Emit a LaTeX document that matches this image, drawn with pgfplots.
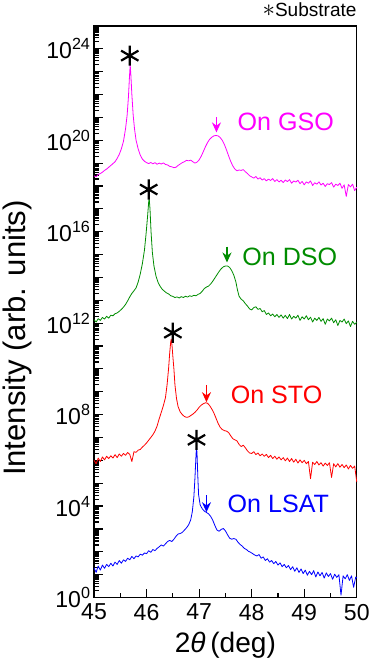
\documentclass[border={0pt 0pt 0pt 3pt}]{standalone}
\usepackage{fontspec}
\setmainfont{Liberation Sans}
\usepackage{pgfplots}
\usepackage{pgfplotstable}
\pgfplotsset{compat=1.18}
\usetikzlibrary{arrows.meta}

\definecolor{cgso}{RGB}{255,0,255}
\definecolor{cdso}{RGB}{0,140,0}
\definecolor{csto}{RGB}{255,0,0}
\definecolor{clsat}{RGB}{0,0,255}

% 2theta-omega scans of the films on the four substrates
\pgfplotstableread{
x y
45.00 2.75e18
45.04 2.5e18
45.08 3.2e18
45.12 3.5e18
45.16 4.0e18
45.20 4.8e18
45.24 5.5e18
45.28 6.6e18
45.32 7.9e18
45.36 9.5e18
45.40 1.15e19
45.44 1.6e19
45.48 2.4e19
45.52 4.2e19
45.56 8.9e19
45.60 3.2e20
45.63 1.26e21
45.655 7.9e21
45.675 6.3e22
45.688 2.0e23
45.70 7.9e22
45.72 1.0e22
45.745 1.26e21
45.77 3.2e20
45.80 1.0e20
45.84 4.2e19
45.88 2.24e19
45.92 1.5e19
45.96 1.2e19
46.00 1.05e19
46.04 9.5e18
46.08 1.07e19
46.12 9.3e18
46.16 1.05e19
46.20 8.9e18
46.24 1.0e19
46.28 9.1e18
46.32 1.02e19
46.36 8.7e18
46.40 8.3e18
46.44 7.2e18
46.48 6.9e18
46.52 6.3e18
46.56 6.6e18
46.60 7.9e18
46.64 9.1e18
46.68 1.05e19
46.72 1.15e19
46.76 1.32e19
46.80 1.26e19
46.84 1.35e19
46.88 1.15e19
46.92 1.0e19
46.96 1.1e19
47.00 1.38e19
47.04 2.0e19
47.08 3.2e19
47.12 5.2e19
47.16 7.9e19
47.20 1.1e20
47.24 1.35e20
47.28 1.55e20
47.32 1.62e20
47.36 1.55e20
47.40 1.32e20
47.44 1.0e20
47.48 6.6e19
47.52 3.8e19
47.56 2.1e19
47.60 1.2e19
47.64 7.6e18
47.68 5.5e18
47.72 4.6e18
47.76 5.0e18
47.80 4.8e18
47.84 5.2e18
47.88 4.2e18
47.92 3.5e18
47.96 2.8e18
48.00 2.5e18
48.04 2.2e18
48.08 2.6e18
48.12 2.0e18
48.16 2.3e18
48.20 1.8e18
48.24 2.1e18
48.28 1.66e18
48.32 2.0e18
48.36 1.74e18
48.40 2.1e18
48.44 1.58e18
48.48 1.9e18
48.52 1.5e18
48.56 1.78e18
48.60 1.41e18
48.64 1.82e18
48.68 1.55e18
48.72 1.9e18
48.76 1.32e18
48.80 1.66e18
48.84 1.48e18
48.88 1.78e18
48.92 1.26e18
48.96 1.58e18
49.00 1.12e18
49.04 1.51e18
49.08 1.32e18
49.12 1.66e18
49.16 1.05e18
49.20 1.38e18
49.24 1.2e18
49.28 1.51e18
49.32 1.1e18
49.36 1.32e18
49.40 9.5e17
49.44 1.26e18
49.48 1.15e18
49.52 1.41e18
49.56 8.9e17
49.60 1.2e18
49.64 1.05e18
49.68 1.32e18
49.72 7.9e17
49.76 1.12e18
49.80 3.5e17
49.84 1.15e18
49.88 9.1e17
49.92 1.2e18
49.96 6.3e17
50.00 8.9e17
}\gso

\pgfplotstableread{
x y
45.00 1.41e12
45.04 1.12e12
45.08 1.58e12
45.12 1.32e12
45.16 1.78e12
45.20 1.51e12
45.24 2.0e12
45.28 1.66e12
45.32 2.24e12
45.36 2.1e12
45.40 2.6e12
45.44 2.8e12
45.48 3.3e12
45.52 4.0e12
45.56 5.0e12
45.60 6.6e12
45.64 9.5e12
45.68 1.41e13
45.72 2.0e13
45.76 2.6e13
45.80 3.5e13
45.84 6.3e13
45.88 1.41e14
45.92 4.0e14
45.96 1.58e15
45.99 7.9e15
46.02 5.0e16
46.04 2.0e17
46.05 2.8e17
46.065 1.0e17
46.085 1.0e16
46.11 1.26e15
46.14 3.2e14
46.18 1.12e14
46.22 6.0e13
46.26 4.0e13
46.30 3.0e13
46.34 2.5e13
46.38 2.1e13
46.42 1.9e13
46.46 1.58e13
46.50 1.48e13
46.54 1.32e13
46.58 1.41e13
46.62 1.26e13
46.66 1.45e13
46.70 1.32e13
46.74 1.51e13
46.78 1.38e13
46.82 1.58e13
46.86 1.48e13
46.90 1.66e13
46.94 1.58e13
46.98 1.82e13
47.02 2.0e13
47.06 2.5e13
47.10 3.3e13
47.14 3.8e13
47.18 4.2e13
47.22 5.2e13
47.26 6.9e13
47.30 9.5e13
47.34 1.32e14
47.38 1.82e14
47.42 2.4e14
47.46 2.9e14
47.50 3.16e14
47.54 3.16e14
47.58 2.75e14
47.62 2.0e14
47.66 1.26e14
47.70 6.3e13
47.73 2.8e13
47.76 1.51e13
47.80 1.12e13
47.84 9.5e12
47.88 7.1e12
47.92 5.6e12
47.96 4.2e12
48.00 3.8e12
48.04 4.8e12
48.08 5.2e12
48.12 4.0e12
48.16 4.4e12
48.20 3.16e12
48.24 3.55e12
48.28 2.4e12
48.32 2.8e12
48.36 2.1e12
48.40 2.5e12
48.44 1.9e12
48.48 2.4e12
48.52 1.78e12
48.56 2.3e12
48.60 1.66e12
48.64 2.2e12
48.68 1.58e12
48.72 2.4e12
48.76 1.51e12
48.80 2.0e12
48.84 1.66e12
48.88 2.24e12
48.92 1.32e12
48.96 1.9e12
49.00 1.51e12
49.04 2.1e12
49.08 1.41e12
49.12 1.82e12
49.16 1.12e12
49.20 1.66e12
49.24 1.32e12
49.28 1.78e12
49.32 1.2e12
49.36 1.58e12
49.40 8.9e11
49.44 1.51e12
49.48 1.26e12
49.52 1.66e12
49.56 1.05e12
49.60 1.41e12
49.64 7.9e11
49.68 1.32e12
49.72 1.12e12
49.76 1.51e12
49.80 9.5e11
49.84 1.26e12
49.88 7.1e11
49.92 1.2e12
49.96 8.9e11
50.00 1.12e12
}\dso

\pgfplotstableread{
x y
45.00 1.0e6
45.04 7.1e5
45.08 1.26e6
45.12 8.9e5
45.16 1.41e6
45.20 1.05e6
45.24 1.51e6
45.28 1.2e6
45.32 1.58e6
45.36 1.26e6
45.40 1.78e6
45.44 1.32e6
45.48 1.9e6
45.52 1.51e6
45.56 2.0e6
45.60 1.66e6
45.64 2.2e6
45.68 1.82e6
45.72 8.9e5
45.76 2.4e6
45.80 2.24e6
45.84 2.8e6
45.88 3.0e6
45.92 3.8e6
45.96 4.6e6
46.00 5.8e6
46.04 7.6e6
46.08 1.0e7
46.12 1.32e7
46.16 1.9e7
46.20 3.16e7
46.24 6.6e7
46.28 1.26e8
46.32 2.5e8
46.36 5.6e8
46.39 2.0e9
46.42 1.12e10
46.44 5.0e10
46.46 1.58e11
46.47 2.0e11
46.485 1.0e11
46.50 3.55e10
46.52 1.0e10
46.54 2.0e9
46.57 5.0e8
46.60 2.24e8
46.64 1.32e8
46.68 1.0e8
46.72 8.3e7
46.76 7.6e7
46.80 7.9e7
46.84 9.1e7
46.88 1.05e8
46.92 1.26e8
46.96 1.58e8
47.00 2.1e8
47.04 2.6e8
47.08 3.0e8
47.12 3.3e8
47.16 3.16e8
47.20 2.5e8
47.24 1.78e8
47.28 1.2e8
47.32 7.1e7
47.36 4.2e7
47.40 2.8e7
47.44 2.24e7
47.48 2.0e7
47.52 1.9e7
47.56 1.66e7
47.60 1.2e7
47.64 8.9e6
47.68 7.9e6
47.72 7.1e6
47.76 5.0e6
47.80 4.0e6
47.84 4.6e6
47.88 3.55e6
47.92 2.6e6
47.96 2.1e6
48.00 2.0e6
48.04 2.4e6
48.08 1.78e6
48.12 2.1e6
48.16 1.58e6
48.20 1.9e6
48.24 1.51e6
48.28 1.82e6
48.32 1.32e6
48.36 1.66e6
48.40 1.2e6
48.44 1.51e6
48.48 1.12e6
48.52 1.41e6
48.56 1.05e6
48.60 1.32e6
48.64 9.5e5
48.68 1.26e6
48.72 8.9e5
48.76 1.2e6
48.80 8.3e5
48.84 1.12e6
48.88 7.6e5
48.92 1.05e6
48.96 7.9e5
49.00 1.0e6
49.04 7.1e5
49.08 8.9e5
49.12 1.58e5
49.16 8.3e5
49.20 6.6e5
49.24 8.9e5
49.28 6.3e5
49.32 7.9e5
49.36 5.6e5
49.40 7.6e5
49.44 6.0e5
49.48 7.9e5
49.52 1.78e5
49.56 7.1e5
49.60 5.2e5
49.64 7.2e5
49.68 5.0e5
49.72 6.6e5
49.76 4.8e5
49.80 6.3e5
49.84 4.2e5
49.88 6.0e5
49.92 4.5e5
49.96 5.6e5
50.00 1.12e5
}\sto

\pgfplotstableread{
x y
45.00 20
45.04 12.6
45.08 24
45.12 15.8
45.16 26.3
45.20 19
45.24 28.2
45.28 22.4
45.32 31.6
45.36 24
45.40 35.5
45.44 28.2
45.48 41.7
45.52 31.6
45.56 44.7
45.60 38
45.64 52.5
45.68 44.7
45.72 63
45.76 50
45.80 66
45.84 60
45.88 79
45.92 71
45.96 89
46.00 83
46.04 112
46.08 95
46.12 126
46.16 112
46.20 141
46.24 166
46.28 200
46.32 178
46.36 224
46.40 282
46.44 316
46.48 282
46.52 355
46.56 479
46.60 603
46.64 631
46.68 708
46.72 891
46.76 1122
46.80 1514
46.84 2512
46.87 5623
46.90 25119
46.92 158489
46.94 1.58e6
46.95 3.98e6
46.96 2.0e6
46.975 2.0e5
46.99 31623
47.02 11220
47.06 7586
47.10 6026
47.14 5248
47.18 4571
47.22 3548
47.26 2399
47.30 1413
47.34 891
47.38 794
47.42 955
47.46 1047
47.50 832
47.54 562
47.58 398
47.62 355
47.66 380
47.70 355
47.74 263
47.78 209
47.82 178
47.86 141
47.90 126
47.94 105
47.98 95
48.02 83
48.06 72
48.10 66
48.14 76
48.18 52.5
48.22 60
48.26 41.7
48.30 50
48.34 35.5
48.38 41.7
48.42 30.2
48.46 38
48.50 26.3
48.54 33.1
48.58 22.4
48.62 28.2
48.66 20
48.70 25.1
48.74 16.6
48.78 22.4
48.82 14.1
48.86 20
48.90 12.6
48.94 17.8
48.98 11.2
49.02 15.8
49.06 9.5
49.10 14.1
49.14 10
49.18 15.1
49.22 7.9
49.26 13.2
49.30 8.9
49.34 12.6
49.38 7.1
49.42 12
49.46 8.3
49.50 11.2
49.54 6.3
49.58 10.5
49.62 7.6
49.66 10
49.70 1.26
49.74 8.9
49.78 6.6
49.82 10
49.86 5.6
49.90 8.9
49.94 2.8
49.98 7.9
50.00 7.1
}\lsat

% substrate reflections (asterisks above the peaks)
\pgfplotstableread{
x y
45.68 5.0e23
46.04 7.0e17
46.50 3.8e11
46.95 7.9e6
}\subs

\begin{document}
\begin{tikzpicture}
\begin{axis}[
  name=ax,
  scale only axis, width=262pt, height=570pt,
  xmin=45, xmax=50,
  ymode=log, ymin=1, ymax=1e25,
  xtick={45,46,47,48,49,50},
  minor xtick={45.5,46.5,47.5,48.5,49.5},
  ytick={1,1e1,1e2,1e3,1e4,1e5,1e6,1e7,1e8,1e9,1e10,1e11,1e12,1e13,1e14,1e15,1e16,1e17,1e18,1e19,1e20,1e21,1e22,1e23,1e24,1e25},
  yticklabels={10\textsuperscript{0},,,,10\textsuperscript{4},,,,10\textsuperscript{8},,,,10\textsuperscript{12},,,,10\textsuperscript{16},,,,10\textsuperscript{20},,,,10\textsuperscript{24},},
  xticklabels={45,46,47,48,49,50},
  tick align=inside, xtick pos=bottom, ytick pos=left,
  major tick length=9pt, minor tick length=5pt,
  axis line style={line width=1.2pt},
  every tick/.append style={line width=1.2pt, black},
  tick label style={font=\fontsize{23}{23}\selectfont},
  xticklabel style={yshift=-3pt},
  xlabel={2\textit{θ}\,(deg)},
  ylabel={Intensity (arb. units)},
  xlabel style={font=\fontsize{28}{28}\selectfont, at={(axis description cs:0.5,-0.084)}, anchor=center},
  ylabel style={font=\fontsize{31}{31}\selectfont, at={(axis description cs:-0.29,0.454)}, anchor=center},
  every axis plot/.append style={line width=0.8pt, line join=round},
  clip=false,
]
\addplot[cgso, no marks] table {\gso};
\addplot[cdso, no marks] table {\dso};
\addplot[csto, no marks] table {\sto};
\addplot[clsat, no marks] table {\lsat};

\addplot[only marks, mark=asterisk, mark size=10pt, black,
  mark options={line width=2.2pt}] table {\subs};

\addplot[cgso, line width=1.2pt, -{Stealth[length=10pt,width=9pt]}]
  coordinates {(47.33,1e21) (47.33,2.2e20)};
\addplot[cdso, line width=1.2pt, -{Stealth[length=10pt,width=9pt]}]
  coordinates {(47.53,2.2e15) (47.53,4.5e14)};
\addplot[csto, line width=1.2pt, -{Stealth[length=10pt,width=9pt]}]
  coordinates {(47.14,2e9) (47.14,3.5e8)};
\addplot[clsat, line width=1.2pt, -{Stealth[length=10pt,width=9pt]}]
  coordinates {(47.14,3e4) (47.14,5.4e3)};

\node[anchor=west, inner sep=0pt, text=cgso, font=\fontsize{25}{25}\selectfont] at (axis cs:47.73,6.3e20) {On GSO};
\node[anchor=west, inner sep=0pt, text=cdso, font=\fontsize{25}{25}\selectfont] at (axis cs:47.82,7.9e14) {On DSO};
\node[anchor=west, inner sep=0pt, text=csto, font=\fontsize{25}{25}\selectfont] at (axis cs:47.60,7.2e8) {On STO};
\node[anchor=west, inner sep=0pt, text=clsat, font=\fontsize{25}{25}\selectfont] at (axis cs:47.54,1.3e4) {On LSAT};
\node[anchor=base east, inner sep=0pt, font=\fontsize{19}{19}\selectfont] at (axis cs:50,2.5e25) {{\fontsize{30}{30}\selectfont$\ast$}Substrate};
\end{axis}
\end{tikzpicture}
\end{document}
